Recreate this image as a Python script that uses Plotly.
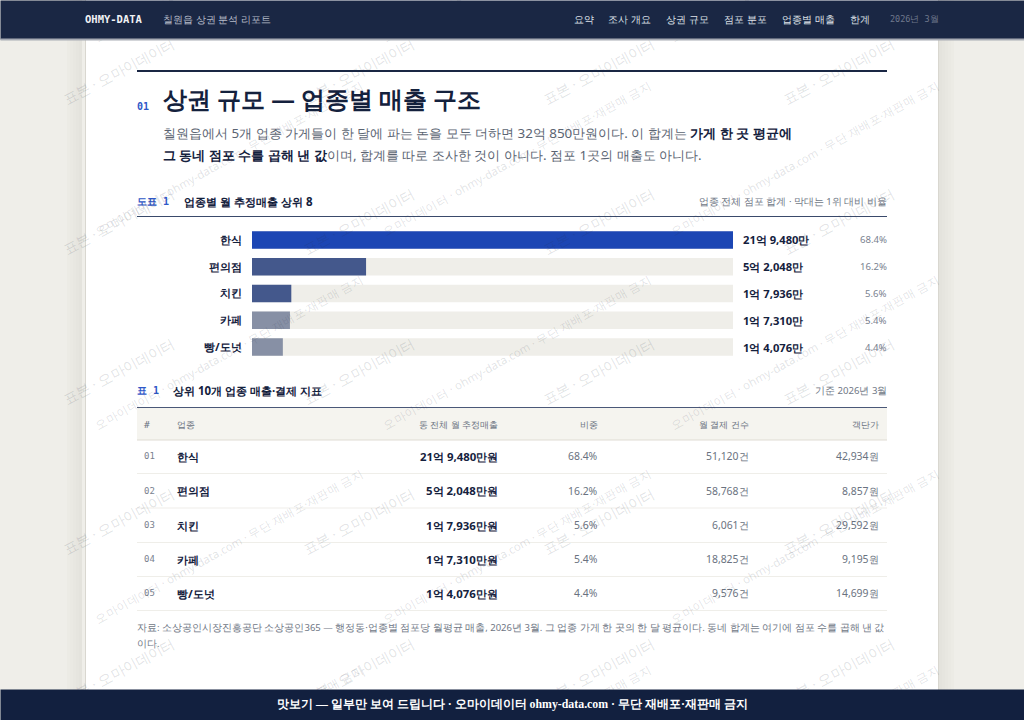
import plotly.graph_objects as go

W, H = 1024, 720
SANS = "Noto Sans"
MONO = "DejaVu Sans Mono"
SERIF = "Liberation Serif"

# ---- data ----
categories = ["한식", "편의점", "치킨", "카페", "빵/도넛"]
revenue_man = [219480, 52048, 17936, 17310, 14076]
share_pct = [68.4, 16.2, 5.6, 5.4, 4.4]
payments = [51120, 58768, 6061, 18825, 9576]
ticket = [42934, 8857, 29592, 9195, 14699]
bar_colors = ["#1c46b4", "#44588c", "#44588c", "#8790a5", "#8790a5"]
nav_items = ["요약", "조사 개요", "상권 규모", "점포 분포", "업종별 매출", "한계"]
nav_left = [574, 608, 666, 724, 782, 850]
wm_short = "표본 · 오마이데이터"
wm_long = "오마이데이터 · ohmy-data.com · 무단 재배포·재판매 금지"

NAVY = "#1a2744"
INK = "#14213d"
GREY = "#5b6472"
BLUE = "#2f58c8"


def krw(v):
    q, r = divmod(v, 10000)
    return f"{q}억 {r:,}만"


annotations = []
shapes = []


def T(x, y, text, size, color, anchor="left", font=SANS, angle=0, bold=False):
    dx = {"left": -1, "right": 1, "center": 0}[anchor]
    annotations.append(dict(
        x=(x + dx) / W, y=1 - y / H, xref="paper", yref="paper", xanchor=anchor, yanchor="middle",
        text=f"<b>{text}</b>" if bold else text, showarrow=False, textangle=angle,
        font=dict(family=font, size=size, color=color), borderpad=0,
    ))


def R(x0, y0, x1, y1, color, layer="below"):
    shapes.append(dict(
        type="rect", xref="paper", yref="paper", x0=x0 / W, x1=x1 / W, y0=1 - y0 / H, y1=1 - y1 / H,
        fillcolor=color, line_width=0, layer=layer,
    ))


def COVER(x, y, w, h, color):
    annotations.append(dict(
        x=x / W, y=1 - y / H, xref="paper", yref="paper", xanchor="left", yanchor="top",
        text=" ", showarrow=False, width=w, height=h, bgcolor=color, borderpad=0,
        font=dict(size=1),
    ))


# page ground and panel
R(0, 0, W, H, "#efeee9")
for i, c in enumerate(["#d9d7d0", "#e4e3dd", "#e6e5df", "#e8e7e1", "#eae9e3", "#ecebe5"]):
    R(85 - 3 * i - 3 if i else 85, 0, 86 if i == 0 else 85 - 3 * i, H, c)
    R(938, 0, 939, H, c) if i == 0 else R(939 + 3 * (i - 1), 0, 939 + 3 * i, H, c)
R(86, 0, 938, H, "#ffffff")

# section head
R(137, 70, 887, 72, NAVY)
T(137, 106, "01", 10, BLUE, font=MONO, bold=True)
T(163, 99, "상권 규모 — 업종별 매출 구조", 23.7, INK, bold=True)
T(163, 133, "칠원읍에서 5개 업종 가게들이 한 달에 파는 돈을 모두 더하면 32억 850만원이다. 이 합계는 <b style='color:#14213d'>가게 한 곳 평균에</b>", 13.4, GREY)
T(163, 155, "<b style='color:#14213d'>그 동네 점포 수를 곱해 낸 값</b>이며, 합계를 따로 조사한 것이 아니다. 점포 1곳의 매출도 아니다.", 13.4, GREY)

# figure head
T(137, 201, "도표 1", 10, BLUE, font=MONO, bold=True)
T(184, 201, "업종별 월 추정매출 상위 8", 11.49, INK, bold=True)
T(887, 201, "업종 전체 점포 합계 · 막대는 1위 대비 비율", 9.5, "#6f7785", anchor="right")
R(137, 216, 887, 217, "#3a4a6b")

# bar value labels, placed through the chart axes
top = max(revenue_man)
for cat, v, s in zip(categories, revenue_man, share_pct):
    annotations.append(dict(x=top, y=cat, xref="x", yref="y", xanchor="left", yanchor="middle",
                            xshift=8, text=f"<b>{krw(v)}</b>", showarrow=False,
                            font=dict(family=SANS, size=11.2, color=INK)))
    annotations.append(dict(x=top, y=cat, xref="x", yref="y", xanchor="right", yanchor="middle",
                            xshift=156, text=f"{s}%", showarrow=False,
                            font=dict(family=SANS, size=9.6, color="#7a8290")))

# table
T(137, 391, "표 1", 10, BLUE, font=MONO, bold=True)
T(173, 391, "상위 10개 업종 매출·결제 지표", 11.49, INK, bold=True)
T(887, 391, "기준 2026년 3월", 9.6, "#6f7785", anchor="right")
R(137, 407, 887, 408, "#4a5878")
R(137, 408, 887, 440, "#f5f4ef")
R(137, 439.5, 887, 440.5, "#dfdcd3")
HEAD = "#6a7280"
T(144, 424, "#", 9.5, HEAD, font=MONO)
T(177, 424, "업종", 9.49, HEAD)
T(498, 424, "동 전체 월 추정매출", 9.49, HEAD, anchor="right")
T(598, 424, "비중", 9.49, HEAD, anchor="right")
T(749, 424, "월 결제 건수", 9.49, HEAD, anchor="right")
T(879, 424, "객단가", 9.49, HEAD, anchor="right")
row_y = [456, 490.5, 525, 559, 593]
for i, (cat, v, s, p, t) in enumerate(zip(categories, revenue_man, share_pct, payments, ticket)):
    y = row_y[i]
    T(144, y, f"{i + 1:02d}", 9, "#7a8290", font=MONO)
    T(177, y, cat, 11.4, INK, bold=True)
    T(498, y, krw(v) + "원", 11.4, INK, anchor="right", bold=True)
    T(598, y, f"{s}%", 10.4, "#6a7280", anchor="right")
    T(749, y, f"{p:,}건", 10.4, "#6a7280", anchor="right")
    T(879, y, f"{t:,}원", 10.4, "#6a7280", anchor="right")
    R(137, y + 17, 887, y + 18, "#efeee9")

# footnote
T(137, 627, "자료: 소상공인시장진흥공단 소상공인365 — 행정동·업종별 점포당 월평균 매출, 2026년 3월. 그 업종 가게 한 곳의 한 달 평균이다. 동네 합계는 여기에 점포 수를 곱해 낸 값", 9.5, "#6f7785")
T(137, 643, "이다.", 9.5, "#6f7785")

# watermarks
WM = "rgba(40,48,70,0.14)"
for yc in [71.5, 221.5, 371.5, 521.5, 671.5]:
    for xc in [118, 358, 598, 838, 1078]:
        T(xc, yc, wm_short, 14.4, WM, anchor="center", angle=-28)
for yc in [-35.5, 158.5, 352.5, 546.5, 742.5]:
    for xc in [228.5, 516.5, 804.5]:
        T(xc, yc, wm_long, 11.5, WM, anchor="center", angle=-29)

# nav and footer sit over the watermarks
COVER(0, 0, W, 38, NAVY)
COVER(0, 38, W, 1, "#a7abb4")
COVER(0, 689, W, 31, "#12203f")
T(85, 19, "OHMY-DATA", 10.5, "#f0f1f4", font=MONO, bold=True)
T(163, 19, "칠원읍 상권 분석 리포트", 10.49, "#b6bcc9")
for name, x in zip(nav_items, nav_left):
    T(x, 19, name, 10, "#dfe2e8")
T(890, 19, "2026년 3월", 8.5, "#6f788c", font=MONO)
shapes.append(dict(type="line", xref="paper", yref="paper", x0=884 / W, x1=884 / W, y0=1 - 12 / H, y1=1 - 26 / H,
                   line=dict(color="#4a5570", width=1), layer="above"))
T(512, 704, "맛보기 — 일부만 보여 드립니다 · 오마이데이터 ohmy-data.com · 무단 재배포·재판매 금지", 11.85, "#ffffff",
  anchor="center", font=SERIF, bold=True)

fig = go.Figure()
fig.add_bar(y=categories, x=[top] * len(categories), orientation="h", marker=dict(color="#efeee9", line_width=0),
            width=0.65, hoverinfo="skip", showlegend=False)
fig.add_bar(y=categories, x=revenue_man, orientation="h", marker=dict(color=bar_colors, line_width=0),
            width=0.65, showlegend=False)
fig.update_layout(
    width=W, height=H, margin=dict(l=0, r=0, t=0, b=0), autosize=False, barmode="overlay",
    paper_bgcolor="#efeee9", plot_bgcolor="rgba(0,0,0,0)", shapes=shapes, annotations=annotations,
    xaxis=dict(domain=[252 / W, 733 / W], range=[0, top], visible=False, fixedrange=True),
    yaxis=dict(domain=[1 - 360.4 / H, 1 - 226.6 / H], autorange=False, range=[4.5, -0.5], type="category",
               categoryorder="array", categoryarray=categories, showgrid=False, zeroline=False, showline=False,
               ticks="outside", ticklen=7, tickcolor="rgba(0,0,0,0)", fixedrange=True,
               tickfont=dict(family=SANS, size=11.2, color=INK, weight=700)),
    font=dict(family=SANS),
)
fig.write_html("out.html", config=dict(displayModeBar=False),
               post_script="document.body.style.margin='0';document.body.style.overflow='hidden';")
